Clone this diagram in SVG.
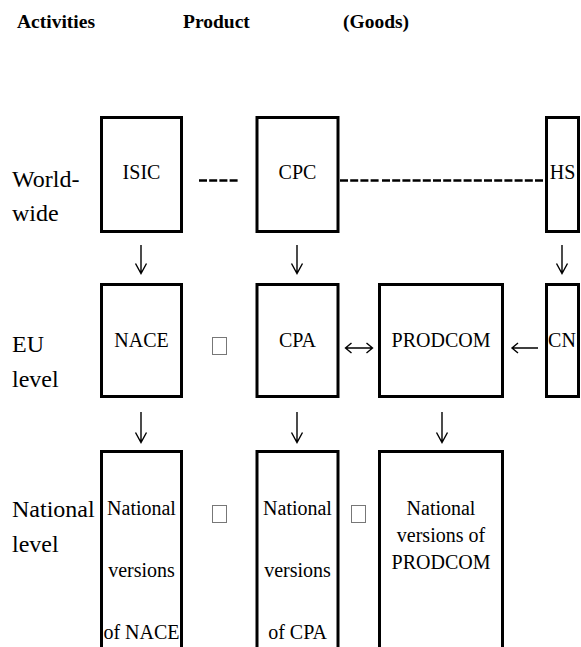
<svg xmlns="http://www.w3.org/2000/svg" width="581" height="647" viewBox="0 0 581 647" font-family="Liberation Serif, Times New Roman, DejaVu Serif, serif">
<style>
.t{font-size:20px;fill:#000;text-anchor:middle}
.lbl{font-size:24px;fill:#000}
.hdr{font-size:19.5px;font-weight:bold;fill:#000}
.box{fill:#fff;stroke:#000;stroke-width:3}
.tofu{fill:#fff;stroke:#777;stroke-width:1}
.arr{fill:none;stroke:#000;stroke-width:1.4}
.dash{stroke:#000;stroke-width:2.6;stroke-dasharray:8 2.2}
</style>
<rect width="581" height="647" fill="#fff"/>
<g id="headers" font-family="Liberation Serif, serif">
<text class="hdr" x="17" y="28">Activities</text>
<text class="hdr" x="183" y="28">Product</text>
<text class="hdr" x="343" y="28">(Goods)</text>
</g>
<g id="row-labels" font-family="Liberation Serif, serif">
<text class="lbl" x="12" y="187">World-</text>
<text class="lbl" x="12" y="221">wide</text>
<text class="lbl" x="12" y="352">EU</text>
<text class="lbl" x="12" y="387">level</text>
<text class="lbl" x="12" y="517">National</text>
<text class="lbl" x="12" y="552">level</text>
</g>
<g id="isic" font-family="Liberation Serif, serif"><rect class="box" x="101.5" y="117.5" width="80" height="114"/><text class="t" x="141.5" y="179">ISIC</text></g>
<g id="cpc" font-family="Liberation Serif, serif"><rect class="box" x="257" y="117.5" width="81" height="114"/><text class="t" x="297.5" y="179">CPC</text></g>
<g id="hs" font-family="Liberation Serif, serif"><rect class="box" x="546.5" y="117.5" width="32" height="114"/><text class="t" x="562.5" y="179">HS</text></g>
<g id="nace" font-family="Liberation Serif, serif"><rect class="box" x="101.5" y="284.5" width="80" height="112"/><text class="t" x="141.5" y="347">NACE</text></g>
<g id="cpa" font-family="Liberation Serif, serif"><rect class="box" x="257" y="284.5" width="81" height="112"/><text class="t" x="297.5" y="347">CPA</text></g>
<g id="prodcom" font-family="Liberation Serif, serif"><rect class="box" x="379.5" y="284.5" width="123" height="112"/><text class="t" x="441" y="347">PRODCOM</text></g>
<g id="cn" font-family="Liberation Serif, serif"><rect class="box" x="546.5" y="284.5" width="32" height="112"/><text class="t" x="562" y="347">CN</text></g>
<g id="nat-nace" font-family="Liberation Serif, serif"><rect class="box" x="101.5" y="451.5" width="80" height="210"/><text class="t" x="141.5" y="515">National</text><text class="t" x="141.5" y="577">versions</text><text class="t" x="141.5" y="639">of NACE</text></g>
<g id="nat-cpa" font-family="Liberation Serif, serif"><rect class="box" x="257" y="451.5" width="81" height="210"/><text class="t" x="297.5" y="515">National</text><text class="t" x="297.5" y="577">versions</text><text class="t" x="297.5" y="639">of CPA</text></g>
<g id="nat-prodcom" font-family="Liberation Serif, serif"><rect class="box" x="379.5" y="451.5" width="123" height="210"/><text class="t" x="441" y="515">National</text><text class="t" x="441" y="542">versions of</text><text class="t" x="441" y="569">PRODCOM</text></g>
<g id="connectors">
<line class="dash" x1="199" y1="180.5" x2="239" y2="180.5"/>
<line class="dash" x1="340" y1="180.5" x2="380" y2="180.5"/>
<line class="dash" x1="382" y1="180.5" x2="545" y2="180.5"/>
<path class="arr" d="M141 245V273M135.5 263.5L141 273.5L146.5 263.5"/>
<path class="arr" d="M297 245V273M291.5 263.5L297 273.5L302.5 263.5"/>
<path class="arr" d="M562 245V273M556.5 263.5L562 273.5L567.5 263.5"/>
<path class="arr" d="M141 412V442M135.5 432.5L141 442.5L146.5 432.5"/>
<path class="arr" d="M297 412V442M291.5 432.5L297 442.5L302.5 432.5"/>
<path class="arr" d="M442 412V442M436.5 432.5L442 442.5L447.5 432.5"/>
<path class="arr" d="M346 348H372M351.5 343L345.5 348L351.5 353M366.5 343L372.5 348L366.5 353"/>
<path class="arr" d="M512 348H538M518 343L512 348L518 353"/>
<rect class="tofu" x="212.5" y="337.5" width="14" height="17"/>
<rect class="tofu" x="212.5" y="505.5" width="14" height="17"/>
<rect class="tofu" x="351.5" y="505.5" width="14" height="17"/>
</g>
</svg>
